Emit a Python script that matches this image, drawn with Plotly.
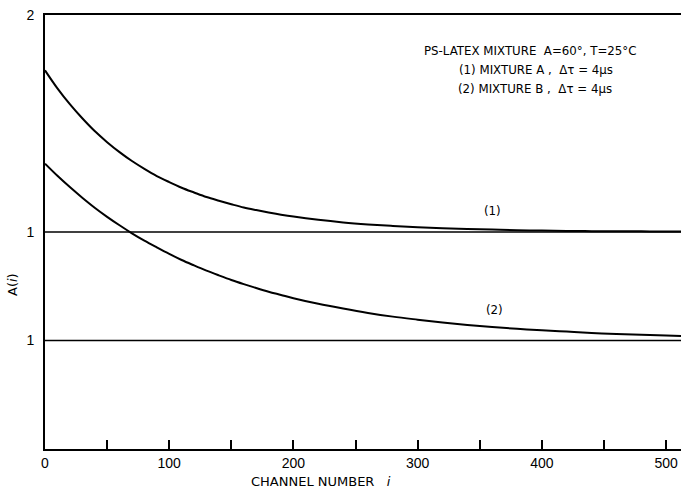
import plotly.graph_objects as go

CHANNELS = [0, 10, 20, 30, 40, 50, 60, 70, 80, 90, 100, 110, 120, 130, 140, 150,
            160, 170, 180, 190, 200, 220, 240, 260, 280, 300, 320, 340, 360, 380,
            400, 420, 440, 460, 480, 500, 512]

# (1) Mixture A  (plotted on its own scale, baseline 1)
A_MIX_A = [1.745, 1.662, 1.589, 1.524, 1.465, 1.414, 1.368, 1.327, 1.291, 1.258,
           1.230, 1.204, 1.182, 1.161, 1.144, 1.128, 1.113, 1.101, 1.090, 1.080,
           1.071, 1.056, 1.044, 1.035, 1.028, 1.022, 1.017, 1.014, 1.011, 1.008,
           1.007, 1.005, 1.004, 1.003, 1.003, 1.002, 1.002]

# (2) Mixture B  (true values; drawn shifted down by OFFSET_B so its baseline 1 sits lower)
A_MIX_B = [1.815, 1.759, 1.707, 1.658, 1.612, 1.570, 1.531, 1.494, 1.460, 1.429,
           1.399, 1.371, 1.346, 1.322, 1.300, 1.279, 1.260, 1.242, 1.225, 1.210,
           1.195, 1.169, 1.147, 1.127, 1.110, 1.096, 1.083, 1.072, 1.062, 1.054,
           1.047, 1.041, 1.035, 1.030, 1.026, 1.023, 1.021]
OFFSET_B = 0.5

X_TICKS = [0, 50, 100, 150, 200, 250, 300, 350, 400, 450, 500]
X_TICK_TEXT = ["0", "", "100", "", "200", "", "300", "", "400", "", "500"]
Y_TICKS = [2.0, 1.0, 0.5]
Y_TICK_TEXT = ["2", "1", "1"]
BASELINES = [1.0, 1.0 - OFFSET_B]

FONT = "Liberation Sans"
TFONT = "DejaVu Sans"

fig = go.Figure()

for b in BASELINES:
    fig.add_hline(y=b, line=dict(color="black", width=1.6), layer="below")

fig.add_trace(go.Scatter(x=CHANNELS, y=A_MIX_A, mode="lines",
                         line=dict(color="black", width=2, shape="spline"),
                         showlegend=False))
fig.add_trace(go.Scatter(x=CHANNELS, y=[v - OFFSET_B for v in A_MIX_B], mode="lines",
                         line=dict(color="black", width=2, shape="spline"),
                         showlegend=False))

fig.update_layout(
    width=681, height=488,
    margin=dict(l=45, r=0, t=15, b=39),
    paper_bgcolor="white", plot_bgcolor="white",
    font=dict(family=FONT, color="black"),
    xaxis=dict(range=[0, 512], showgrid=False, zeroline=False,
               showline=True, linecolor="black", linewidth=2, mirror=True,
               ticks="inside", ticklen=9, tickwidth=1.5, tickcolor="black",
               tickvals=X_TICKS, ticktext=X_TICK_TEXT,
               tickfont=dict(size=14, family=FONT)),
    yaxis=dict(range=[0, 2], showgrid=False, zeroline=False,
               showline=True, linecolor="black", linewidth=2,
               ticks="", tickvals=Y_TICKS, ticktext=Y_TICK_TEXT,
               ticklabelstandoff=6,
               tickfont=dict(size=14, family=FONT)),
)

ann_font = dict(size=11.8, family=TFONT, color="black")
fig.add_annotation(text="PS-LATEX MIXTURE  A=60°, T=25°C", xref="paper", yref="paper",
                   x=0.763, y=0.938, xanchor="center", showarrow=False, font=ann_font)
fig.add_annotation(text="(1) MIXTURE A ,  Δτ = 4μs", xref="paper", yref="paper",
                   x=0.772, y=0.893, xanchor="center", showarrow=False, font=ann_font)
fig.add_annotation(text="(2) MIXTURE B ,  Δτ = 4μs", xref="paper", yref="paper",
                   x=0.771, y=0.851, xanchor="center", showarrow=False, font=ann_font)

fig.add_annotation(text="(1)", x=360, y=1.097, showarrow=False, font=ann_font)
fig.add_annotation(text="(2)", x=362, y=0.639, showarrow=False, font=ann_font)

fig.add_annotation(text="CHANNEL NUMBER   <i>i</i>", xref="paper", yref="paper",
                   x=0.434, y=-0.076, xanchor="center", yanchor="middle", showarrow=False,
                   font=dict(size=13, family=TFONT, color="black"))
fig.add_annotation(text="A(<i>i</i>)", xref="paper", yref="paper",
                   x=-0.052, y=0.38, xanchor="center", yanchor="middle",
                   textangle=-90, showarrow=False,
                   font=dict(size=13, family=TFONT, color="black"))

fig.write_html("out.html")
